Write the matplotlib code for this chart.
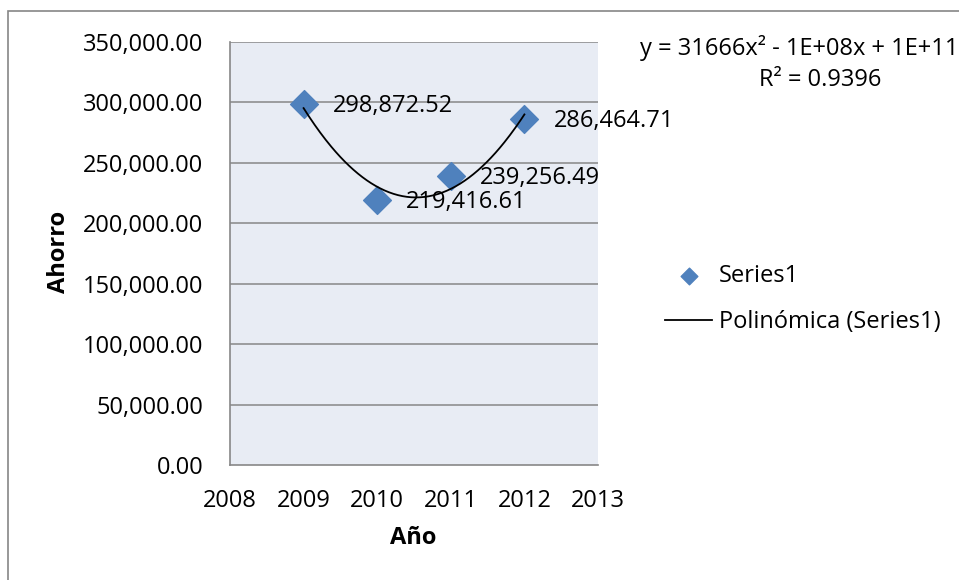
import numpy as np
import matplotlib.pyplot as plt
from matplotlib.patches import Rectangle

plt.rcParams['font.family'] = ['Open Sans', 'DejaVu Sans']

years = [2009, 2010, 2011, 2012]
ahorro = [298872.52, 219416.61, 239256.49, 286464.71]
labels = ["298,872.52", "219,416.61", "239,256.49", "286,464.71"]
y_ticks = [0, 50000, 100000, 150000, 200000, 250000, 300000, 350000]
x_ticks = [2008, 2009, 2010, 2011, 2012, 2013]

FS = 17
W, H = 959, 580

fig = plt.figure(figsize=(9.59, 5.8), dpi=100)
# chart frame
fig.patches.append(Rectangle((8/W, -0.1), 1.1, 1 - 11/H + 0.1, transform=fig.transFigure,
                             fill=False, edgecolor='#868686', linewidth=1.2))
ax = fig.add_axes([230/W, 1 - 465/H, 368/W, 423/H])
ax.set_facecolor('#E8ECF4')

for v in y_ticks[1:]:
    ax.axhline(v, color='#878787', linewidth=1.1, zorder=1)

# polynomial trend (order 2)
c = np.polyfit(np.array(years) - 2010, ahorro, 2)
xs = np.linspace(years[0], years[-1], 200)
ax.plot(xs, np.polyval(c, xs - 2010), color='black', linewidth=1.3, zorder=3,
        label='Polinómica (Series1)')
ax.scatter(years, ahorro, marker='D', s=200, color='#4F81BD', zorder=2, label='Series1')

for x, y, t in zip(years, ahorro, labels):
    ax.annotate(t, (x, y), xytext=(21, -1.5), textcoords='offset points', fontsize=FS,
                va='center', ha='left', zorder=4)

ax.set_xlim(2008, 2013)
ax.set_ylim(0, 350000)
ax.set_xticks(x_ticks)
ax.set_yticks(y_ticks)
ax.set_yticklabels([f"{v:,.2f}" for v in y_ticks])
ax.tick_params(length=0, labelsize=FS)
ax.tick_params(axis='y', pad=19)
ax.tick_params(axis='x', pad=17)
for s in ['top', 'right']:
    ax.spines[s].set_visible(False)
for s in ['left', 'bottom']:
    ax.spines[s].set_color('#878787')
    ax.spines[s].set_linewidth(1.2)

ax.set_xlabel('Año', fontsize=FS, fontweight='bold', va='center')
ax.set_ylabel('Ahorro', fontsize=FS, fontweight='bold', va='center')
ax.xaxis.set_label_coords((413 - 230) / 368, (465 - 538) / 423)
ax.yaxis.set_label_coords((59 - 230) / 368, (465 - 252) / 423)

fig.text(799/W, 1 - 48/H, 'y = 31666x² - 1E+08x + 1E+11', fontsize=FS,
         ha='center', va='center')
fig.text(820/W, 1 - 80/H, 'R² = 0.9396', fontsize=FS, ha='center', va='center')

h, l = ax.get_legend_handles_labels()
fig.legend(h[::-1], l[::-1], loc='center left', bbox_to_anchor=(665/W, 1 - 299/H),
           frameon=False, fontsize=FS, handlelength=2.0, labelspacing=0.95,
           handletextpad=0.3, borderpad=0, borderaxespad=0, markerscale=0.6)

fig.savefig('out.png', dpi=100)
